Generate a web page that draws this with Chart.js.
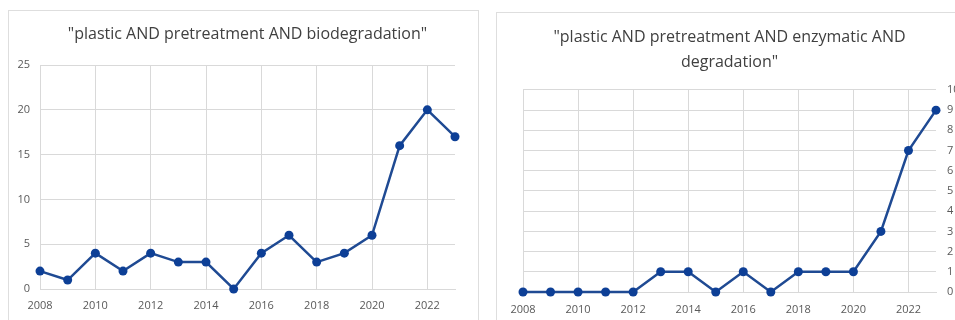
<!DOCTYPE html>
<html>
<head>
<meta charset="utf-8">
<script src="https://cdn.jsdelivr.net/npm/chart.js@4"></script>
<style>
  body { margin: 0; background: #fff; width: 955px; height: 320px; overflow: hidden; position: relative; }
  .card { position: absolute; border: 1px solid #dedede; background: #fff; box-sizing: border-box; }
  #card1 { left: 8px; top: 10px; width: 471px; height: 330px; }
  #card2 { left: 496px; top: 12px; width: 480px; height: 330px; }
  canvas { position: absolute; }
  #chart1 { left: 8px; top: 10px; }
  #chart2 { left: 496px; top: 12px; }
</style>
</head>
<body>
<div class="card" id="card1"></div>
<div class="card" id="card2"></div>
<canvas id="chart1" width="470" height="310"></canvas>
<canvas id="chart2" width="459" height="308"></canvas>
<script>
const years = [2008, 2009, 2010, 2011, 2012, 2013, 2014, 2015, 2016, 2017, 2018, 2019, 2020, 2021, 2022, 2023];
const biodegradation = [2, 1, 4, 2, 4, 3, 3, 0, 4, 6, 3, 4, 6, 16, 20, 17];
const enzymatic = [0, 0, 0, 0, 0, 1, 1, 0, 1, 0, 1, 1, 1, 3, 7, 9];
const title1 = '"plastic AND pretreatment AND biodegradation"';
const title2 = ['"plastic AND pretreatment AND enzymatic AND', 'degradation"'];

const lineColor = '#1f4a93';
const gridColor = '#d9d9d9';
const textColor = '#595959';
const fontFamily = "'Open Sans', 'Liberation Sans', sans-serif";

function makeChart(id, values, title, opts) {
    const points = years.map((y, i) => ({ x: y, y: values[i] }));
    return new Chart(document.getElementById(id), {
        type: 'line',
        data: {
            datasets: [{
                data: points,
                borderColor: lineColor,
                backgroundColor: '#0d3f96',
                borderWidth: 2.5,
                pointRadius: 4.5,
                pointBorderWidth: 0,
                pointBackgroundColor: '#0d3f96',
                tension: 0,
                clip: false
            }]
        },
        options: {
            responsive: false,
            animation: false,
            layout: { padding: opts.padding },
            plugins: {
                legend: { display: false },
                tooltip: { enabled: false },
                title: {
                    display: true,
                    fullSize: false,
                    text: title,
                    color: '#404040',
                    font: { family: fontFamily, size: 16, weight: 'normal', lineHeight: opts.titleLine },
                    padding: opts.titlePadding
                }
            },
            scales: {
                x: {
                    type: 'linear',
                    min: 2008,
                    max: 2023,
                    grid: { color: gridColor, drawTicks: false },
                    border: { color: gridColor },
                    ticks: {
                        stepSize: 2,
                        includeBounds: false,
                        padding: opts.xPad,
                        color: textColor,
                        font: { family: fontFamily, size: 11 },
                        maxRotation: 0,
                        callback: v => String(v)
                    },
                    afterFit: s => { s.height = opts.xHeight; }
                },
                y: {
                    position: opts.yPos,
                    min: 0,
                    max: opts.yMax,
                    grid: { color: gridColor, drawTicks: false },
                    border: { display: opts.yPos === 'left', color: gridColor },
                    ticks: {
                        stepSize: opts.yStep,
                        padding: opts.yPad,
                        color: textColor,
                        font: { family: fontFamily, size: 11 }
                    },
                    afterFit: s => { s.width = opts.yWidth; }
                }
            }
        }
    });
}

makeChart('chart1', biodegradation, title1, {
    padding: { left: 0, right: 23, top: 0, bottom: 0 },
    titleLine: 1.47,
    titlePadding: { top: 13, bottom: 18.5 },
    xPad: 10, xHeight: 31,
    yPos: 'left', yMax: 25, yStep: 5, yPad: 10, yWidth: 32
});

makeChart('chart2', enzymatic, title2, {
    padding: { left: 27, right: 0, top: 0, bottom: 0 },
    titleLine: 1.56,
    titlePadding: { top: 12.5, bottom: 15.5 },
    xPad: 11, xHeight: 28,
    yPos: 'right', yMax: 10, yStep: 1, yPad: 11, yWidth: 19
});
</script>
</body>
</html>
